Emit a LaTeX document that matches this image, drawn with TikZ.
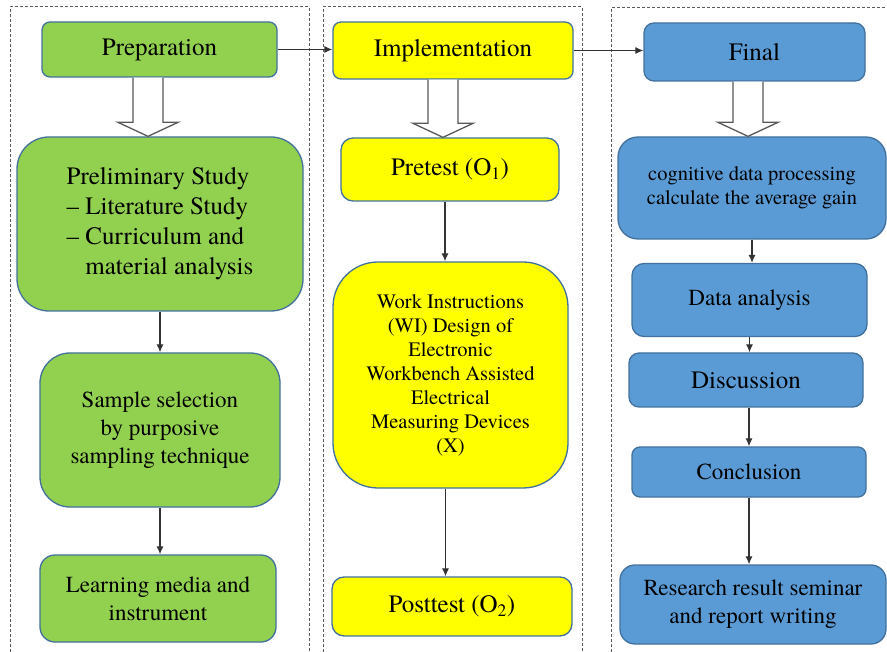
\documentclass[tikz,border=0pt]{standalone}
\usepackage{fontspec}
\setmainfont{TeX Gyre Termes}
\usetikzlibrary{arrows.meta,calc}
\definecolor{greenbox}{HTML}{92D050}
\definecolor{yellowbox}{HTML}{FFFF00}
\definecolor{bluebox}{HTML}{5B9BD5}
\definecolor{edgeblue}{HTML}{41719C}
\newcommand{\fsbig}{\fontsize{25}{30}\selectfont}
\newcommand{\fsmid}{\fontsize{23}{28}\selectfont}
\newcommand{\fssmall}{\fontsize{20.5}{24}\selectfont}
\newcommand{\fatarrow}[3]{%
  \draw[fat] ($(#3 |- #1.south)+(-15,0)$) -- ($(#3 |- #2.north)+(-15,-14)$)
    -- ($(#3 |- #2.north)+(-30,-14)$) -- (#3 |- #2.north)
    -- ($(#3 |- #2.north)+(30,-14)$) -- ($(#3 |- #2.north)+(15,-14)$)
    -- ($(#3 |- #1.south)+(15,0)$);}

\begin{document}
\begin{tikzpicture}[x=1pt, y=-1pt,
    box/.style={draw=edgeblue, line width=1.3pt, inner sep=0pt, align=center},
    panel/.style={draw=black!65, line width=1pt, dash pattern=on 3pt off 2pt},
    link/.style={draw=black!80, line width=1.2pt, -{Latex[length=8pt,width=7pt]}},
    fat/.style={draw=black!65, line width=1.3pt, fill=white}]
    \useasboundingbox (0,0) rectangle (887,652);
    % dashed panels
    \draw[panel] (10,652) -- (10,7) -- (309,7) -- (309,652);
    \draw[panel] (323,652) -- (323,7) -- (582,7) -- (582,652);
    \draw[panel] (611,652) -- (611,8) -- (887,8);
    \coordinate (c1) at (148,0);
    \coordinate (c2) at (443,0);
    \coordinate (c3) at (748,0);
    % preparation
    \node[box, fill=greenbox, minimum width=235pt, minimum height=55pt, rounded corners=8pt, font=\fsbig] (prep) at (159.5,49.5) {Preparation};
    \node[box, fill=greenbox, minimum width=286pt, minimum height=174pt, rounded corners=32pt, font=\fsbig, align=left] (prelim) at (160,224) {Preliminary Study\\–~Literature Study\\–~Curriculum and\\\hphantom{–~}material analysis};
    \node[box, fill=greenbox, minimum width=240pt, minimum height=154pt, rounded corners=30pt, font=\fsmid] (sample) at (160,430) {Sample selection\\by purposive\\sampling technique};
    \node[box, fill=greenbox, minimum width=236pt, minimum height=87pt, rounded corners=15pt, font=\fsmid] (media) at (158,598.5) {Learning media and\\instrument};
    % implementation
    \node[box, fill=yellowbox, minimum width=240pt, minimum height=57pt, rounded corners=8pt, font=\fsbig] (impl) at (453,50.5) {Implementation};
    \node[box, fill=yellowbox, minimum width=218pt, minimum height=63pt, rounded corners=12pt, font=\fsbig] (pre) at (450,169.5) {Pretest (O\textsubscript{1})};
    \node[box, fill=yellowbox, minimum width=235pt, minimum height=226pt, rounded corners=45pt, font=\fssmall] (wi) at (450.5,375) {Work Instructions\\(WI) Design of\\Electronic\\Workbench Assisted\\Electrical\\Measuring Devices\\(X)};
    \node[box, fill=yellowbox, minimum width=240pt, minimum height=59pt, rounded corners=12pt, font=\fsbig] (post) at (452,606.5) {Posttest (O\textsubscript{2})};
    % final
    \node[box, fill=bluebox, minimum width=221pt, minimum height=58pt, rounded corners=10pt, font=\fsbig] (final) at (754.5,52) {Final};
    \node[box, fill=bluebox, minimum width=268pt, minimum height=102pt, rounded corners=20pt, font=\fssmall] (cog) at (752,188) {cognitive data processing\\calculate the average gain};
    \node[box, fill=bluebox, minimum width=235pt, minimum height=73pt, rounded corners=12pt, font=\fsmid] (data) at (749.5,300) {Data analysis};
    \node[box, fill=bluebox, minimum width=234pt, minimum height=54pt, rounded corners=10pt, font=\fsbig] (disc) at (746,380) {Discussion};
    \node[box, fill=bluebox, minimum width=234pt, minimum height=50pt, rounded corners=8pt, font=\fsmid] (concl) at (749,472) {Conclusion};
    \node[box, fill=bluebox, minimum width=266pt, minimum height=79pt, rounded corners=15pt, font=\fsmid] (res) at (753,604.5) {Research result seminar\\and report writing};
    % arrows
    \draw[link] (prep.east) -- (prep.east -| impl.west);
    \draw[link] (impl.east) -- (impl.east -| final.west);
    \fatarrow{prep}{prelim}{c1}
    \fatarrow{impl}{pre}{c2}
    \fatarrow{final}{cog}{c3}
    \draw[link] (prelim.south) -- (prelim.south |- sample.north);
    \draw[link] (sample.south) -- (sample.south |- media.north);
    \draw[link] ([xshift=-5pt]pre.south) -- ([xshift=-5pt]pre.south |- wi.north);
    \draw[link] ([xshift=-5pt]wi.south) -- ([xshift=-5pt]wi.south |- post.north);
    \draw[link] (cog.south) -- (cog.south |- data.north);
    \draw[link] (data.south) -- (data.south |- disc.north);
    \draw[link] (concl.north |- disc.south) -- (concl.north);
    \draw[link] (concl.south) -- (concl.south |- res.north);
\end{tikzpicture}
\end{document}
